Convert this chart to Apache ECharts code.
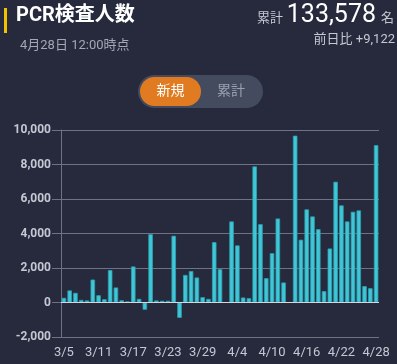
<!DOCTYPE html>
<html><head><meta charset="utf-8">
<script src="https://cdn.jsdelivr.net/npm/echarts@6/dist/echarts.min.js"></script>
<style>html,body{margin:0;padding:0;background:#262a3c;}#c{width:397px;height:364px;}</style>
</head><body><div id="c"></div>
<script>
var dates = ['3/5','3/6','3/7','3/8','3/9','3/10','3/11','3/12','3/13','3/14','3/15','3/16','3/17','3/18','3/19','3/20','3/21','3/22','3/23','3/24','3/25','3/26','3/27','3/28','3/29','3/30','3/31','4/1','4/2','4/3','4/4','4/5','4/6','4/7','4/8','4/9','4/10','4/11','4/12','4/13','4/14','4/15','4/16','4/17','4/18','4/19','4/20','4/21','4/22','4/23','4/24','4/25','4/26','4/27','4/28'];
var newCases = [270,700,560,150,120,1330,420,190,1880,870,130,60,2090,210,-420,3960,120,100,100,3870,-890,1600,1820,1450,310,210,3500,1930,0,4700,3310,290,250,7890,4540,1410,2860,4870,1160,0,9670,3640,5400,4990,4250,660,3130,7000,5630,4700,5260,5340,950,830,9122];
var yTicks = [-2000, 0, 2000, 4000, 6000, 8000, 10000];
var titleText = 'PCR検査人数';
var dateText = '4月28日 12:00時点';
var totalText = '133,578';
var diffText = '前日比 +9,122';

var chart = echarts.init(document.getElementById('c'), null, {renderer:'canvas'});
var jp = 'Roboto, "Noto Sans CJK JP", sans-serif';
chart.setOption({
  backgroundColor: '#262a3c',
  animation: false,
  grid: {left: 61, right: 18, top: 130, bottom: 27, containLabel: false, outerBoundsMode: 'none'},
  xAxis: {
    type: 'category', data: dates, position: 'bottom',
    axisLine: {show: false, onZero: false},
    axisTick: {show: false},
    axisLabel: {interval: 5, color: '#c4c8d2', fontSize: 13, fontFamily: jp, margin: 9}
  },
  yAxis: {
    type: 'value', min: yTicks[0], max: yTicks[yTicks.length-1], interval: 2000,
    axisLine: {show: true, lineStyle: {color: '#6e7282'}},
    axisTick: {show: true, length: 9, lineStyle: {color: '#6e7282'}},
    splitLine: {lineStyle: {color: '#6e7282'}},
    axisLabel: {color: '#c4c8d2', fontSize: 12, fontWeight: 'bold', fontFamily: jp, margin: 10,
      formatter: function(v){ return v.toLocaleString('en-US'); }}
  },
  series: [{
    type: 'bar', data: newCases, barCategoryGap: '22%',
    itemStyle: {color: '#40c6d6', borderColor: '#2b9fb0', borderWidth: 0.8},
    markLine: {silent: true, symbol: 'none', label: {show: false},
      lineStyle: {color: '#d4d7de', type: 'solid', width: 1},
      data: [{yAxis: 0}]}
  }],
  graphic: [
    {type: 'rect', shape: {x: 4, y: 8, width: 3, height: 25}, style: {fill: '#f2c200'}},
    {type: 'text', left: 16, top: 6, style: {text: titleText, fill: '#ffffff', font: 'bold 20px ' + jp}},
    {type: 'text', left: 20, top: 39, style: {text: dateText, fill: '#a4a8b4', font: '13px ' + jp}},
    {type: 'text', right: 114, top: 12, style: {text: '累計', fill: '#c4c8d2', font: '13px ' + jp}},
    {type: 'text', right: 21, top: 3, style: {text: totalText, fill: '#ffffff', font: '25px ' + jp}},
    {type: 'text', right: 3, top: 12, style: {text: '名', fill: '#c4c8d2', font: '13px ' + jp}},
    {type: 'text', right: 2, top: 33, style: {text: diffText, fill: '#c4c8d2', font: '13px ' + jp}},
    {type: 'rect', shape: {x: 138, y: 75, width: 125, height: 33, r: 16.5}, style: {fill: '#444b5f'}},
    {type: 'rect', shape: {x: 140, y: 77, width: 61, height: 29, r: 14.5}, style: {fill: '#e07b22'}},
    {type: 'text', x: 170.5, y: 91.5, style: {text: '新規', fill: '#ffffff', font: '14px ' + jp, align: 'center', verticalAlign: 'middle'}},
    {type: 'text', x: 231, y: 91.5, style: {text: '累計', fill: '#9aa0ae', font: '14px ' + jp, align: 'center', verticalAlign: 'middle'}}
  ]
});
</script></body></html>
